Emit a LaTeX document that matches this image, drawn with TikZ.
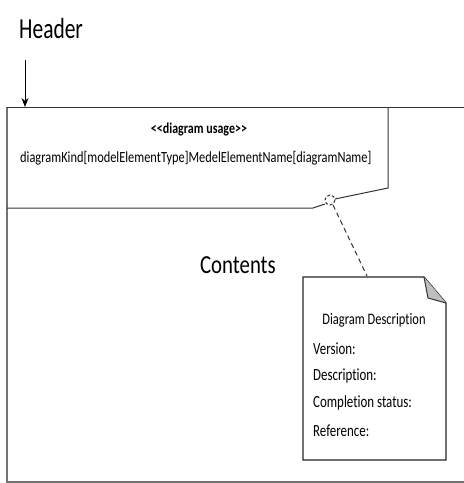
\documentclass[tikz,border=0pt]{standalone}
\usepackage{fontspec}
\setmainfont[Ligatures=NoCommon]{Carlito}
\usetikzlibrary{arrows.meta}
\newcommand{\sq}[2][0.74]{\scalebox{#1}[1]{#2}}
\tikzset{
  lbl/.style={inner sep=0pt, anchor=base west},
  frame/.style={draw=black!55, line width=1.2pt},
  hdr/.style={draw=black!80, line width=1pt},
  notebox/.style={draw=black!85, line width=1.3pt, fill=white},
  notefont/.style={font=\fontsize{17}{18}\selectfont},
}
\begin{document}
\begin{tikzpicture}[x=1pt,y=-1pt]
\useasboundingbox (0,0) rectangle (464,483);
% outer frame
\draw[frame] (464,482) -- (7,482) -- (7,107);
\draw[hdr] (7,107) -- (464,107);
% header pentagon
\coordinate (hc) at (330,200);
\draw[hdr] (388,107) -- (388,188) -- (335,199);
\draw[hdr] (325,204) -- (313,208) -- (7,208);
\draw[hdr, dashed, dash pattern=on 3pt off 2pt] (hc) circle (5);
% header label and arrow
\node[lbl, font=\fontsize{29}{30}\selectfont] (header) at (19,38) {\sq{Header}};
\coordinate (arrtop) at (25,60);
\coordinate (arrend) at (25,107);
\draw[-{Stealth[length=9pt,width=7pt]}, line width=0.9pt] (arrtop) -- (arrend);
% texts in header
\node[inner sep=0pt, font=\fontsize{15}{16}\bfseries\selectfont] (usage) at (199,130) {\sq[0.8]{<\kern0pt<diagram usage>\kern0pt>}};
\node[inner sep=0pt, anchor=west, font=\fontsize{15.5}{16}\selectfont] (kind) at (20,158) {\sq[0.8]{diagramKind[modelElementType]MedelElementName[diagramName]}};
% contents
\node[inner sep=0pt, font=\fontsize{26}{27}\selectfont] (contents) at (238,265) {\sq[0.8]{Contents}};
% note
\draw[notebox] (303,277) -- (424,277) -- (446,303) -- (446,460) -- (303,460) -- cycle;
\fill[black!25] (424,277) -- (446,303) -- (428,298) -- cycle;
\draw[black!80, line width=1pt] (424,277) -- (428,298) -- (446,303);
\coordinate (notetop) at (367,276);
\draw[black!80, line width=1pt, dashed, dash pattern=on 5pt off 3.5pt] (333,205) -- (notetop);
\node[inner sep=0pt, font=\fontsize{16}{17}\selectfont] (ndesc) at (374,320) {\sq[0.78]{Diagram Description}};
\node[lbl, notefont] (v) at (313,354) {\sq[0.76]{Version:}};
\node[lbl, notefont] (d) at (313,380) {\sq[0.76]{Description:}};
\node[lbl, notefont] (c) at (313,407) {\sq[0.76]{Completion status:}};
\node[lbl, notefont] (r) at (313,436) {\sq[0.76]{Reference:}};
\end{tikzpicture}
\end{document}
